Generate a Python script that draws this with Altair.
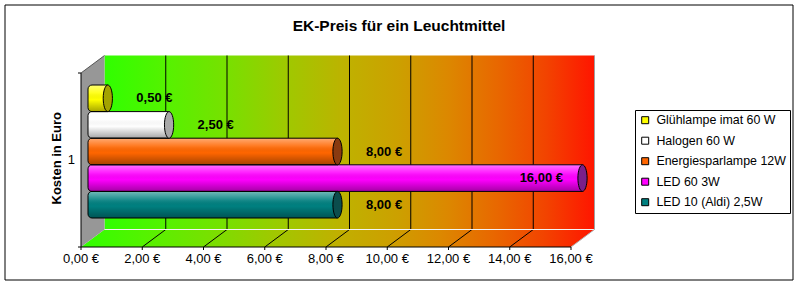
import altair as alt
import pandas as pd

# ---------------- data ----------------
series = ["Glühlampe imat 60 W", "Halogen 60 W", "Energiesparlampe 12W", "LED 60 3W", "LED 10 (Aldi) 2,5W"]
values = [0.5, 2.5, 8.0, 16.0, 8.0]
bar_labels = ["0,50 €", "2,50 €", "8,00 €", "16,00 €", "8,00 €"]
colors = ["#ffff00", "#ffffff", "#ff6600", "#ff00ff", "#008080"]
cap_colors = ["#a3a300", "#a8a8a8", "#8a3a10", "#7a1f8a", "#0b4d4d"]
ticks = [0, 2, 4, 6, 8, 10, 12, 14, 16]
tick_labels = ["0,00 €", "2,00 €", "4,00 €", "6,00 €", "8,00 €", "10,00 €", "12,00 €", "14,00 €", "16,00 €"]
category = "1"
y_title = "Kosten in Euro"
title = "EK-Preis für ein Leuchtmittel"

# ---------------- layout ----------------
FONT = "Liberation Sans"
X_RANGE = [81, 571]
Z_RANGE = [247, 73]
lo, hi = ticks[0], ticks[-1]
PX_PER_U = (X_RANGE[1] - X_RANGE[0]) / (hi - lo)
DX = 23.5 / PX_PER_U            # depth shift in data units
DZ = 17.5 / (Z_RANGE[0] - Z_RANGE[1])  # depth shift in z units
BAR_START = 7
BAR_END = 11.5
BAND = [85, 218]
band_h = (BAND[1] - BAND[0]) / len(series)

xs = alt.Scale(domain=[lo, hi], range=X_RANGE, nice=False, zero=False)
zs = alt.Scale(domain=[0, 1], range=Z_RANGE, nice=False, zero=False)


def X(f):
    return alt.X(f, scale=xs, axis=None)


def Z(f):
    return alt.Y(f, scale=zs, axis=None)


stops = [(0.0, "#30ff00"), (0.125, "#55f200"), (0.25, "#78e000"), (0.375, "#a0c800"),
         (0.5, "#c0b000"), (0.6, "#cca000"), (0.7, "#dc8800"), (0.8, "#e86800"),
         (0.9, "#f24400"), (1.0, "#ff1500")]
wall_grad = alt.Gradient(gradient="linear", x1=0, x2=1, y1=0, y2=0,
                         stops=[alt.GradientStop(offset=o, color=c) for o, c in stops])
shade_grad = alt.Gradient(gradient="linear", x1=0, x2=0, y1=0, y2=1, stops=[
    alt.GradientStop(offset=0, color="rgba(255,255,255,0.45)"),
    alt.GradientStop(offset=0.3, color="rgba(255,255,255,0.12)"),
    alt.GradientStop(offset=0.55, color="rgba(0,0,0,0)"),
    alt.GradientStop(offset=1, color="rgba(0,0,0,0.35)"),
])

one = alt.Data(values=[{}])

# ---------------- frame ----------------
border = alt.Chart(one).mark_rect(fillOpacity=0, stroke="black", strokeWidth=1).encode(
    x=alt.value(5), x2=alt.value(793), y=alt.value(5), y2=alt.value(280))

back_df = pd.DataFrame({"x": [lo + DX], "x2": [hi + DX], "top": [1 + DZ], "bot": [DZ]})
back = alt.Chart(back_df).mark_rect(color=wall_grad).encode(
    x=X("x:Q"), x2="x2:Q", y=Z("top:Q"), y2="bot:Q")

floor_df = pd.DataFrame({"x": [lo, lo + DX, hi, hi + DX],
                         "top": [0, DZ, DZ, DZ], "bot": [0, 0, 0, DZ]})
floor = alt.Chart(floor_df).mark_area(color=wall_grad).encode(
    x=X("x:Q"), y=Z("top:Q"), y2="bot:Q")

side_df = pd.DataFrame({"x": [lo, lo + DX], "top": [1, 1 + DZ], "bot": [0, DZ]})
side = alt.Chart(side_df).mark_area(color="#979797").encode(
    x=X("x:Q"), y=Z("top:Q"), y2="bot:Q")

tick_df = pd.DataFrame({"v": ticks, "label": tick_labels})
tick_df["vb"] = tick_df["v"] + DX
tick_df["z0"] = 0.0
tick_df["zb"] = DZ
tick_df["zt"] = 1 + DZ
inner = tick_df[(tick_df.v > lo) & (tick_df.v < hi)]

grid_back = alt.Chart(inner).mark_rule(color="black", strokeWidth=1).encode(
    x=X("vb:Q"), y=Z("zb:Q"), y2="zt:Q")
grid_floor = alt.Chart(inner).mark_rule(color="black", strokeWidth=1).encode(
    x=X("v:Q"), x2="vb:Q", y=Z("z0:Q"), y2="zb:Q")

edges_df = pd.DataFrame({
    "x": [lo + DX, hi + DX, hi, lo],
    "x2": [hi + DX, hi + DX, hi + DX, lo + DX],
    "y": [DZ, DZ, 0, 1],
    "y2": [DZ, 1 + DZ, DZ, 1 + DZ],
    "c": ["#f4f4f4", "#a0a0a0", "#b0b0b0", "#555555"],
})
edges = alt.Chart(edges_df).mark_rule(strokeWidth=1).encode(
    x=X("x:Q"), x2="x2:Q", y=Z("y:Q"), y2="y2:Q", color=alt.Color("c:N", scale=None))

axis_df = pd.DataFrame({"x": [lo, lo], "x2": [hi, lo], "y": [0, 0], "y2": [0, 1]})
axes = alt.Chart(axis_df).mark_rule(color="black", strokeWidth=1).encode(
    x=X("x:Q"), x2="x2:Q", y=Z("y:Q"), y2="y2:Q")

xticks = alt.Chart(tick_df).mark_rule(color="black", y2Offset=3).encode(
    x=X("v:Q"), y=Z("z0:Q"), y2="z0:Q")
yticks_df = pd.DataFrame({"x": [lo, lo], "z": [0, 1]})
yticks = alt.Chart(yticks_df).mark_rule(color="black", x2Offset=-3).encode(
    x=X("x:Q"), x2="x:Q", y=Z("z:Q"))

tick_text = alt.Chart(tick_df).mark_text(font=FONT, fontSize=13, color="black", dy=12,
                                         baseline="middle", align="center").encode(
    x=X("v:Q"), y=Z("z0:Q"), text="label:N")

cat_df = pd.DataFrame({"x": [lo], "z": [0.5], "t": [category]})
cat_text = alt.Chart(cat_df).mark_text(font=FONT, fontSize=13, color="black", align="right",
                                       baseline="middle", dx=-6).encode(
    x=X("x:Q"), y=Z("z:Q"), text="t:N")

ytitle_df = pd.DataFrame({"z": [0.51], "t": [y_title]})
ytitle = alt.Chart(ytitle_df).mark_text(font=FONT, fontSize=13, fontWeight="bold", color="black",
                                        angle=270, align="center", baseline="middle").encode(
    x=alt.value(57), y=Z("z:Q"), text="t:N")

title_df = pd.DataFrame({"t": [title]})
title_text = alt.Chart(title_df).mark_text(font=FONT, fontSize=15.5, fontWeight="bold", color="black",
                                           align="center", baseline="middle").encode(
    x=alt.value(399), y=alt.value(26), text="t:N")

frame = alt.layer(border, back, floor, side, grid_back, grid_floor, edges, axes, xticks, yticks,
                  tick_text, cat_text, ytitle, title_text)

# ---------------- bars ----------------
bar_df = pd.DataFrame({"series": series, "value": values, "label": bar_labels,
                       "cap": cap_colors, "zero": 0.0})
ys = alt.Y("series:N", sort=series, axis=None,
           scale=alt.Scale(domain=series, range=BAND, paddingInner=0, paddingOuter=0))
vmax = max(values)

base = alt.Chart(bar_df)
rect_kw = dict(xOffset=BAR_START, x2Offset=BAR_END, cornerRadiusTopLeft=4, cornerRadiusBottomLeft=4)

body = base.mark_rect(**rect_kw).encode(
    x=X("zero:Q"), x2="value:Q", y=ys,
    color=alt.Color("series:N", sort=series,
                    scale=alt.Scale(domain=series, range=colors),
                    legend=alt.Legend(orient="none", legendX=635, legendY=110, title=None,
                                      direction="vertical",
                                      symbolType="square", symbolSize=49,
                                      symbolStrokeColor="black", symbolStrokeWidth=1,
                                      labelFont=FONT, labelFontSize=12.4, labelColor="black",
                                      labelLimit=400, labelOffset=5,
                                      strokeColor="black", fillColor="white",
                                      padding=4, rowPadding=7.5)))
shade = base.mark_rect(color=shade_grad, **rect_kw).encode(x=X("zero:Q"), x2="value:Q", y=ys)
outline = base.mark_rect(fillOpacity=0, stroke="black", strokeWidth=1, **rect_kw).encode(
    x=X("zero:Q"), x2="value:Q", y=ys)

rx = 4.6 / (band_h / 2)
ellipse = f"M 0 -1 A {rx:.3f} 1 0 1 1 0 1 A {rx:.3f} 1 0 1 1 0 -1 Z"
caps = base.mark_point(shape=ellipse, size=band_h ** 2, filled=True, opacity=1,
                       stroke="black", strokeWidth=1, xOffset=BAR_END).encode(
    x=X("value:Q"), y=ys, fill=alt.Fill("cap:N", scale=None))

lab_kw = dict(font=FONT, fontSize=13, fontWeight="bold", color="black", baseline="middle")
labels = base.mark_text(align="left", dx=40, **lab_kw).encode(
    x=X("value:Q"), y=ys, text="label:N").transform_filter(f"datum.value < {vmax}")
labels_max = base.mark_text(align="right", dx=-8, **lab_kw).encode(
    x=X("value:Q"), y=ys, text="label:N").transform_filter(f"datum.value >= {vmax}")

bars = alt.layer(body, shade, outline, caps, labels, labels_max)

chart = alt.layer(frame, bars).resolve_scale(y="independent", color="independent").properties(
    width=799, height=285, autosize=alt.AutoSizeParams(type="none"), padding=0,
    background="white").configure_view(stroke=None)

chart.save("out.html", embed_options={"renderer": "svg", "actions": False})
